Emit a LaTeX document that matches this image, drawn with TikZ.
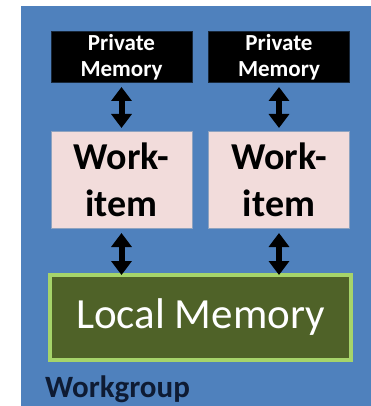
\documentclass[tikz,border=0pt]{standalone}
\usepackage{fontspec}
\setmainfont{Carlito}
\usetikzlibrary{arrows.meta}
\definecolor{wgblue}{HTML}{4F81BD}
\definecolor{wipink}{HTML}{F2DCDB}
\definecolor{wiedge}{HTML}{8EA3C0}
\definecolor{lmfill}{HTML}{4F6228}
\definecolor{lmedge}{HTML}{A6D46A}
\definecolor{wgtext}{HTML}{0E1B33}
\begin{document}
\begin{tikzpicture}[x=1pt,y=-1pt,
  pmbox/.style={fill=black,draw=black!70!wgblue,line width=1pt,inner sep=0pt,outer sep=0pt,
    minimum width=141pt,minimum height=51pt,text=white,align=center,
    font=\fontsize{23}{26}\selectfont\bfseries},
  wibox/.style={fill=wipink,draw=wiedge,line width=1pt,inner sep=0pt,outer sep=0pt,
    minimum width=141pt,minimum height=96pt,text=black,align=center,
    font=\fontsize{38}{47}\selectfont\bfseries},
  lmbox/.style={fill=lmfill,draw=lmedge,line width=4pt,inner sep=0pt,outer sep=0pt,
    minimum width=301pt,minimum height=85pt,text=white,
    font=\fontsize{43}{50}\selectfont},
  dblarrow/.style={line width=6pt,{Triangle[width=20pt,length=14pt]}-{Triangle[width=20pt,length=14pt]}}
]
\useasboundingbox (0,0) rectangle (371,406);
\fill[wgblue] (21,6) rectangle (371,406);
\node[pmbox] (pm1) at (121.5,57.5) {Private\\Memory};
\node[pmbox] (pm2) at (279,57.5) {Private\\Memory};
\node[wibox] (wi1) at (121.5,180) {Work-\\item};
\node[wibox] (wi2) at (279,180) {Work-\\item};
\node[lmbox] (lm) at (200.5,317.5) {Local Memory};
\node[anchor=base west,inner sep=0pt,text=wgtext,font=\fontsize{31}{36}\selectfont\bfseries] (wg) at (45,397) {Workgroup};
\draw[dblarrow,shorten <=4pt,shorten >=4pt] (pm1.south) -- (wi1.north);
\draw[dblarrow,shorten <=4pt,shorten >=4pt] (pm2.south) -- (wi2.north);
\draw[dblarrow,shorten <=5pt,shorten >=0pt] (wi1.south) -- (wi1.south |- lm.north);
\draw[dblarrow,shorten <=5pt,shorten >=0pt] (wi2.south) -- (wi2.south |- lm.north);
\end{tikzpicture}
\end{document}
